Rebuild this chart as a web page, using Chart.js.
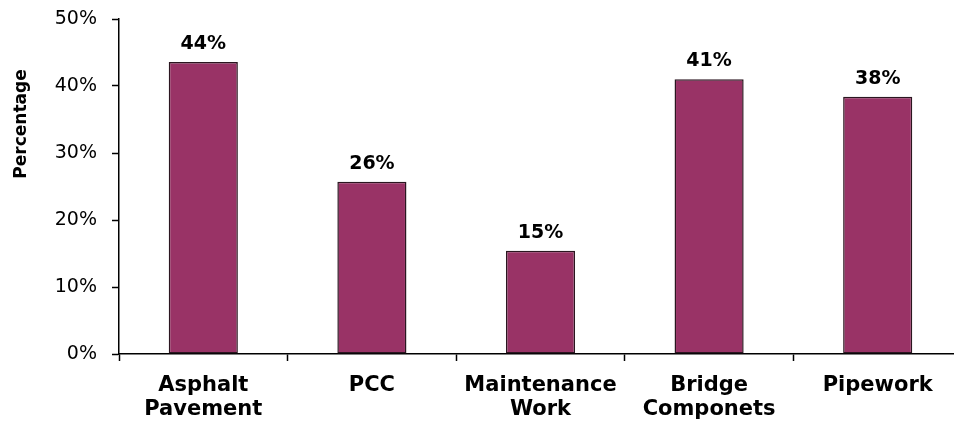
<!DOCTYPE html>
<html>
<head>
<meta charset="utf-8">
<script src="https://cdn.jsdelivr.net/npm/chart.js@4/dist/chart.umd.min.js"></script>
<style>
  html, body { margin: 0; padding: 0; background: #fff; overflow: hidden; }
  #wrap { width: 962px; height: 422px; }
</style>
</head>
<body>
<div id="wrap"><canvas id="chart"></canvas></div>
<script>
// Values
const categories = [['Asphalt', 'Pavement'], 'PCC', ['Maintenance', 'Work'], ['Bridge', 'Componets'], 'Pipework'];
const percentages = [43.6, 25.7, 15.4, 41.0, 38.4];
const yTicks = [0, 10, 20, 30, 40, 50];

const barColor = '#993366';
const fontFamily = "'DejaVu Sans', Verdana, sans-serif";

// labels above each bar
const valueLabels = {
    id: 'valueLabels',
    afterDatasetsDraw(chart) {
        const ctx = chart.ctx;
        const meta = chart.getDatasetMeta(0);
        ctx.save();
        ctx.font = 'bold 19px ' + fontFamily;
        ctx.fillStyle = '#000';
        ctx.textAlign = 'center';
        ctx.textBaseline = 'alphabetic';
        meta.data.forEach((bar, i) => {
            ctx.fillText(Math.round(percentages[i]) + '%', bar.x, bar.y - 13);
        });
        ctx.restore();
    }
};

// rotated axis title, sits higher than the middle of the axis
const yTitle = {
    id: 'yTitle',
    afterDraw(chart) {
        const ctx = chart.ctx;
        ctx.save();
        ctx.translate(22, 124);
        ctx.rotate(-Math.PI / 2);
        ctx.font = 'bold 17px ' + fontFamily;
        ctx.fillStyle = '#000';
        ctx.textAlign = 'center';
        ctx.textBaseline = 'middle';
        ctx.fillText('Percentage', 0, 0);
        ctx.restore();
    }
};

const ctx = document.getElementById('chart').getContext('2d');
new Chart(ctx, {
    type: 'bar',
    data: {
        labels: categories,
        datasets: [{
            data: percentages,
            backgroundColor: barColor,
            borderColor: '#2b1620',
            borderWidth: 1.5,
            borderSkipped: false,
            categoryPercentage: 0.41,
            barPercentage: 1
        }]
    },
    options: {
        responsive: true,
        maintainAspectRatio: false,
        animation: false,
        layout: { padding: { top: 19, left: 0, right: 0, bottom: 0 }, autoPadding: false },
        plugins: {
            legend: { display: false },
            tooltip: { enabled: false }
        },
        scales: {
            x: {
                offset: true,
                grid: {
                    offset: true,
                    drawOnChartArea: false,
                    drawTicks: true,
                    tickLength: 7,
                    tickWidth: 1.5,
                    color: '#000'
                },
                border: { color: '#000', width: 1.5 },
                ticks: {
                    color: '#000',
                    font: { family: fontFamily, size: 21, weight: 'bold', lineHeight: 1.15 },
                    padding: 12,
                    maxRotation: 0,
                    autoSkip: false
                },
                afterFit(scale) { scale.height = 68; }
            },
            y: {
                min: 0,
                max: 50,
                afterBuildTicks(scale) { scale.ticks = yTicks.map(v => ({ value: v })); },
                grid: {
                    drawOnChartArea: false,
                    drawTicks: true,
                    tickLength: 7,
                    tickWidth: 1.5,
                    color: '#000'
                },
                border: { color: '#000', width: 1.5 },
                ticks: {
                    color: '#000',
                    font: { family: fontFamily, size: 19 },
                    padding: 15,
                    callback: v => v + '%'
                },
                afterFit(scale) {
                    scale.width = 119;
                    scale.paddingTop = 0;
                    scale.paddingBottom = 0;
                }
            }
        }
    },
    plugins: [valueLabels, yTitle]
});
</script>
</body>
</html>
